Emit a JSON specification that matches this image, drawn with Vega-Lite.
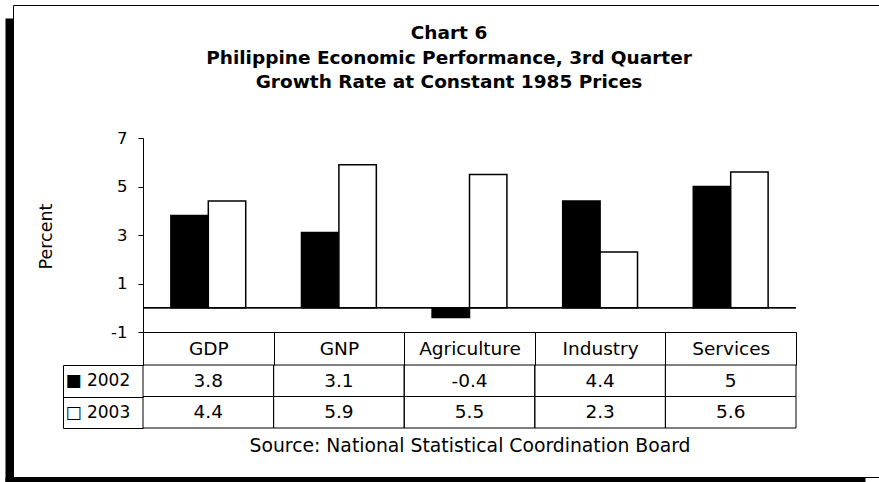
{
  "$schema": "https://vega.github.io/schema/vega-lite/v6.json",
  "width": 866,
  "height": 472,
  "autosize": {"type": "none"},
  "padding": {"left": 13, "top": 5, "right": 0, "bottom": 5},
  "background": "white",
  "config": {
    "font": "DejaVu Sans",
    "view": {"stroke": "black", "strokeWidth": 1},
    "axis": {"labelColor": "black", "titleColor": "black", "domainColor": "black", "tickColor": "black", "grid": false}
  },
  "title": {
    "text": ["Chart 6", "Philippine Economic Performance, 3rd Quarter", "Growth Rate at Constant 1985 Prices"],
    "anchor": "middle",
    "frame": "group",
    "fontSize": 18.5,
    "fontWeight": "bold",
    "lineHeight": 24.7,
    "baseline": "top",
    "color": "black",
    "dx": 3,
    "dy": 100
  },
  "datasets": {
    "growth": [
      {"sector": "GDP", "year": "2002", "value": 3.8},
      {"sector": "GDP", "year": "2003", "value": 4.4},
      {"sector": "GNP", "year": "2002", "value": 3.1},
      {"sector": "GNP", "year": "2003", "value": 5.9},
      {"sector": "Agriculture", "year": "2002", "value": -0.4},
      {"sector": "Agriculture", "year": "2003", "value": 5.5},
      {"sector": "Industry", "year": "2002", "value": 4.4},
      {"sector": "Industry", "year": "2003", "value": 2.3},
      {"sector": "Services", "year": "2002", "value": 5},
      {"sector": "Services", "year": "2003", "value": 5.6}
    ]
  },
  "layer": [
    {
      "data": {"name": "growth"},
      "encoding": {
        "x": {
          "field": "sector", "type": "nominal",
          "scale": {"domain": ["GDP", "GNP", "Agriculture", "Industry", "Services"], "range": [130, 783], "paddingInner": 0, "paddingOuter": 0},
          "axis": {
            "orient": "bottom", "offset": -145, "tickBand": "extent", "tickSize": 33,
            "labelPadding": -16.5, "labelBaseline": "middle", "labelAngle": 0, "labelFontSize": 18.5,
            "title": "Source: National Statistical Coordination Board",
            "titleFontSize": 18.8, "titleFontWeight": "normal", "titleY": 113, "titleBaseline": "middle"
          }
        }
      },
      "layer": [
        {
          "mark": {"type": "bar", "stroke": "black", "strokeWidth": 1.5},
          "encoding": {
            "xOffset": {"field": "year", "type": "nominal", "scale": {"paddingInner": 0, "paddingOuter": 0.745}},
            "y": {
              "field": "value", "type": "quantitative",
              "scale": {"domain": [-1, 7], "range": [327, 133], "nice": false, "zero": false},
              "axis": {
                "orient": "left", "offset": -130, "values": [-1, 1, 3, 5, 7], "tickSize": 5, "labelPadding": 11,
                "labelExpr": "'' + datum.value",
                "labelFontSize": 16.5, "title": "Percent", "titleFontSize": 17.5, "titleFontWeight": "normal",
                "titleX": -97, "titleY": 231, "titleAngle": -90, "titleAlign": "center", "titleBaseline": "middle"
              }
            },
            "fill": {"field": "year", "type": "nominal", "scale": {"domain": ["2002", "2003"], "range": ["black", "white"]}, "legend": null}
          }
        },
        {
          "mark": {"type": "rect", "filled": false, "color": "black", "strokeWidth": 1},
          "encoding": {"y": {"datum": 0}, "y2": {"datum": 0}}
        }
      ]
    },
    {
      "data": {"name": "growth"},
      "encoding": {
        "x": {
          "field": "sector", "type": "nominal",
          "scale": {"domain": ["GDP", "GNP", "Agriculture", "Industry", "Services"], "range": [130, 783], "paddingInner": 0, "paddingOuter": 0},
          "axis": null
        },
        "y": {
          "field": "year", "type": "nominal",
          "scale": {"domain": ["2002", "2003"], "range": [360, 423], "paddingInner": 0, "paddingOuter": 0},
          "axis": {
            "orient": "left", "offset": -50, "tickBand": "extent", "tickSize": -80, "labelPadding": 78,
            "labelAlign": "left", "labelBaseline": "middle", "labelFontSize": 17,
            "labelExpr": "datum.value == '2002' ? '■ 2002' : (datum.value == '2003' ? '□ 2003' : '')", "title": null
          }
        }
      },
      "layer": [
        {"mark": {"type": "rect", "filled": false, "color": "black", "strokeWidth": 1}},
        {"mark": {"type": "text", "fontSize": 18.5, "color": "black"}, "encoding": {"text": {"field": "value", "type": "nominal"}}}
      ]
    },
    {
      "data": {"values": [{}]},
      "mark": {"type": "point", "opacity": 0},
      "encoding": {
        "x": {"datum": 0, "type": "quantitative", "scale": {"domain": [0, 1], "range": [-8, 852]},
              "axis": {"orient": "bottom", "offset": 2.5, "domainWidth": 5, "ticks": false, "labels": false, "title": null}},
        "y": {"datum": 0, "type": "quantitative", "scale": {"domain": [0, 1], "range": [477, 13]},
              "axis": {"orient": "left", "offset": 4, "domainWidth": 8, "ticks": false, "labels": false, "title": null}}
      }
    }
  ],
  "resolve": {"scale": {"x": "independent", "y": "independent"}, "axis": {"x": "independent", "y": "independent"}}
}
